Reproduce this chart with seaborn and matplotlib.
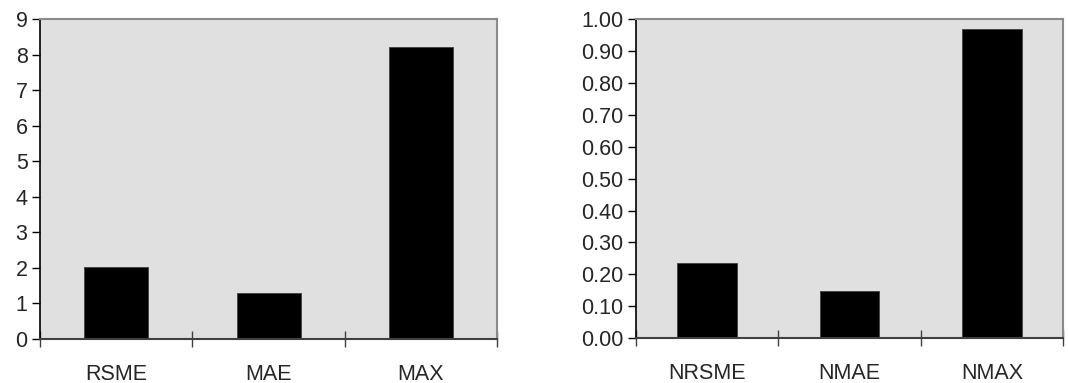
import matplotlib
matplotlib.use("Agg")
import matplotlib.pyplot as plt
import seaborn as sns
import numpy as np
import pandas as pd

# error metrics (left) and normalised error metrics (right)
abs_names = ["RSME", "MAE", "MAX"]
abs_values = [2.02, 1.28, 8.23]
norm_names = ["NRSME", "NMAE", "NMAX"]
norm_values = [0.237, 0.149, 0.969]

abs_ticks = list(range(0, 10))
norm_ticks = [i / 10 for i in range(0, 11)]

sns.set_style("white")
plt.rcParams["font.family"] = ["Liberation Sans", "DejaVu Sans"]
FS = 15.5


def draw(ax, names, values, yticks, fmt):
    df = pd.DataFrame({"metric": names, "value": values})
    sns.barplot(data=df, x="metric", y="value", color="black", width=0.42,
                edgecolor="#404040", linewidth=0.6, saturation=1, ax=ax)
    ax.set_facecolor("#e0e0e0")
    ax.set_xlim(-0.5, len(names) - 0.5)
    ax.set_ylim(yticks[0], yticks[-1])
    ax.set_yticks(yticks)
    ax.set_yticklabels([fmt.format(t) for t in yticks])
    # major x ticks sit between categories, labels on minor ticks at centres
    n = len(names)
    ax.set_xticks(np.arange(-0.5, n, 1.0))
    ax.set_xticklabels([""] * (n + 1))
    ax.set_xticks(np.arange(n), minor=True)
    ax.set_xticklabels(names, minor=True)
    ax.tick_params(axis="x", which="major", bottom=True, direction="inout",
                   length=12, width=1, color="#404040")
    ax.tick_params(axis="x", which="minor", bottom=True, length=0, pad=18,
                   labelsize=FS)
    ax.tick_params(axis="y", left=True, direction="out", length=6, width=1,
                   color="black", pad=3, labelsize=FS)
    ax.set_xlabel("")
    ax.set_ylabel("")
    for side in ["top", "right"]:
        ax.spines[side].set_color("#8a8a8a")
        ax.spines[side].set_linewidth(1.5)
    ax.spines["left"].set_color("black")
    ax.spines["left"].set_linewidth(1.2)
    ax.spines["bottom"].set_color("#404040")
    ax.spines["bottom"].set_linewidth(1.5)


fig = plt.figure(figsize=(10.68, 3.83), dpi=100)
ax1 = fig.add_axes([0.0375, 0.115, 0.428, 0.835])
ax2 = fig.add_axes([0.5955, 0.117, 0.3998, 0.833])

draw(ax1, abs_names, abs_values, abs_ticks, "{:d}")
draw(ax2, norm_names, norm_values, norm_ticks, "{:.2f}")

fig.savefig("out.png", dpi=100)
plt.close(fig)
